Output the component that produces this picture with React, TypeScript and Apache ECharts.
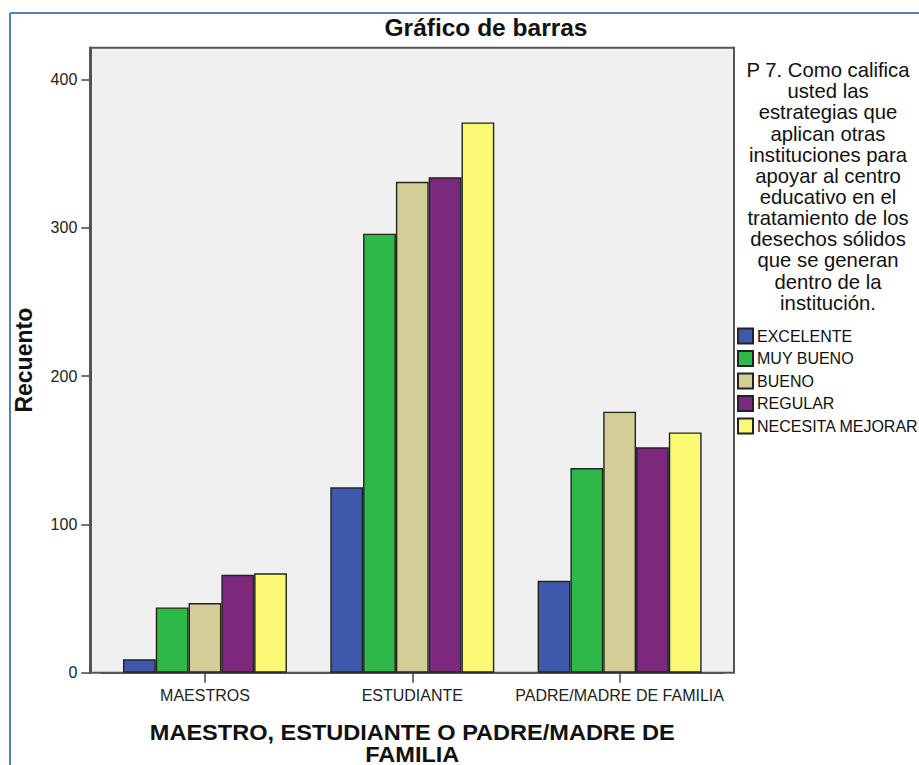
import React, { useEffect, useRef } from "react";
import * as echarts from "echarts";

const categories = ["MAESTROS", "ESTUDIANTE", "PADRE/MADRE DE FAMILIA"];
const seriesNames = ["EXCELENTE", "MUY BUENO", "BUENO", "REGULAR", "NECESITA MEJORAR"];
const excelente = [9, 125, 62];
const muyBueno = [44, 296, 138];
const bueno = [47, 331, 176];
const regular = [66, 334, 152];
const necesitaMejorar = [67, 371, 162];
const yTicks = [0, 100, 200, 300, 400];
const seriesColors = ["#3E58AC", "#2EB848", "#D3CE97", "#7C287D", "#FBF873"];

const xAxisTitle = "MAESTRO, ESTUDIANTE O PADRE/MADRE DE\nFAMILIA";
const legendTitle =
  "P 7. Como califica\nusted las\nestrategias que\naplican otras\ninstituciones para\napoyar al centro\neducativo en el\ntratamiento de los\ndesechos sólidos\nque se generan\ndentro de la\ninstitución.";

const FONT = "'Liberation Sans', Arial, sans-serif";

export default function App() {
  const ref = useRef<HTMLDivElement>(null);
  useEffect(() => {
    if (!ref.current) return;
    const chart = echarts.init(ref.current, undefined, { renderer: "svg" });
    const values = [excelente, muyBueno, bueno, regular, necesitaMejorar];
    chart.setOption({
      animation: false,
      backgroundColor: "#ffffff",
      textStyle: { fontFamily: FONT },
      title: [
        {
          text: "Gráfico de barras",
          left: 486,
          top: 15.3,
          padding: 0,
          textAlign: "center",
          textStyle: { fontFamily: FONT, fontSize: 24.5, fontWeight: "bold", color: "#111", lineHeight: 24.5 },
        },
        {
          text: legendTitle,
          left: 828,
          top: 59.5,
          padding: 0,
          textAlign: "center",
          textStyle: { fontFamily: FONT, fontSize: 20.3, fontWeight: "normal", color: "#111", lineHeight: 21.15 },
        },
      ],
      legend: {
        orient: "vertical",
        left: 737,
        top: 327.5,
        padding: 0,
        itemWidth: 15,
        itemHeight: 15,
        itemGap: 5.5,
        icon: "rect",
        textStyle: { fontFamily: FONT, fontSize: 16, color: "#111", padding: [0, 0, 0, -1] },
        data: seriesNames,
      },
      grid: {
        left: 101.3,
        right: 195.7,
        top: 47.7,
        bottom: 92.3,
        containLabel: false,
        outerBoundsMode: "none",
      },
      graphic: [
        {
          type: "rect",
          z: -10,
          shape: { x: 90, y: 47.7, width: 644, height: 625 },
          style: { fill: "#f0f0f0", stroke: "#555555", lineWidth: 2 },
        },
        {
          type: "line",
          z: 10,
          shape: { x1: 10, y1: 13, x2: 10, y2: 765 },
          style: { stroke: "#4F81BD", lineWidth: 2 },
        },
        {
          type: "line",
          z: 10,
          shape: { x1: 10, y1: 13, x2: 919, y2: 13 },
          style: { stroke: "#4F81BD", lineWidth: 2 },
        },
        {
          type: "text",
          x: 412.3,
          y: 720.8,
          scaleX: 1.07,
          style: {
            text: xAxisTitle,
            x: 0,
            y: 0,
            align: "center",
            verticalAlign: "top",
            fontFamily: FONT,
            fontSize: 22,
            fontWeight: "bold",
            lineHeight: 22,
            fill: "#111",
          },
        },
      ],
      xAxis: {
        type: "category",
        data: categories,
        axisLine: { show: true, lineStyle: { color: "#555555", width: 2 } },
        axisTick: { show: true, alignWithLabel: true, length: 10, lineStyle: { color: "#444", width: 1.5 } },
        axisLabel: { fontFamily: FONT, fontSize: 16, color: "#222", margin: 15, interval: 0 },
        splitLine: { show: false },
      },
      yAxis: {
        type: "value",
        min: 0,
        max: 421.4,
        interval: 100,
        offset: 11,
        name: "Recuento",
        nameLocation: "middle",
        nameGap: 55,
        nameTextStyle: { fontFamily: FONT, fontSize: 23, fontWeight: "bold", color: "#111" },
        axisLine: { show: true, lineStyle: { color: "#555555", width: 2 } },
        axisTick: { show: true, length: 9, customValues: yTicks, lineStyle: { color: "#444", width: 1.5 } },
        axisLabel: { fontFamily: FONT, fontSize: 16, color: "#222", margin: 13, customValues: yTicks },
        splitLine: { show: false },
      },
      series: seriesNames.map((name, i) => ({
        type: "bar",
        name,
        data: values[i],
        barGap: "0%",
        barCategoryGap: "20.9%",
        itemStyle: { color: seriesColors[i], borderColor: "#222222", borderWidth: 1.4 },
      })),
    });
    return () => chart.dispose();
  }, []);
  return (
    <div
      ref={ref}
      style={{ position: "fixed", left: 0, top: 0, width: 919, height: 765 }}
    />
  );
}
